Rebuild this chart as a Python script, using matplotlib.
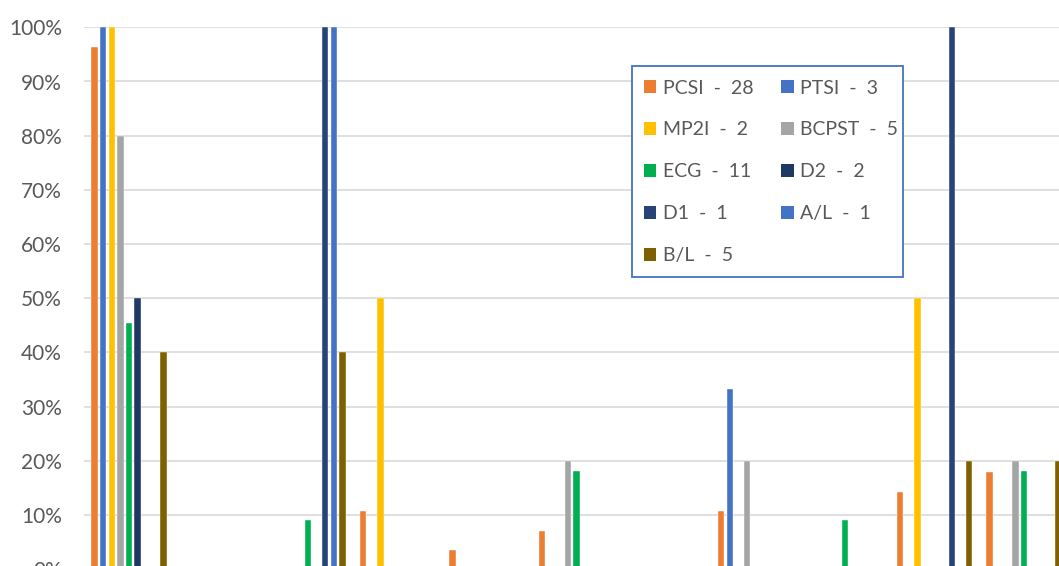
import numpy as np
import matplotlib
matplotlib.use("Agg")
import matplotlib.pyplot as plt
from matplotlib.patches import Patch, Rectangle

plt.rcParams["font.family"] = ["Lato", "DejaVu Sans"]

# series (filiere - nombre)
series = ["PCSI", "PTSI", "MP2I", "BCPST", "ECG", "D2", "D1", "A/L", "B/L"]
counts = [28, 3, 2, 5, 11, 2, 1, 1, 5]
colors = ["#ED7D31", "#4472C4", "#FFC000", "#A5A5A5", "#00B050",
          "#203864", "#264478", "#4472C4", "#7F6000"]

# valeurs par categorie (11 categories visibles)
pcsi = [0.964, 0, 0, 0.107, 0.036, 0.071, 0, 0.107, 0, 0.143, 0.179]
ptsi = [1.0, 0, 0, 0, 0, 0, 0, 0.333, 0, 0, 0]
mp2i = [1.0, 0, 0, 0.5, 0, 0, 0, 0, 0, 0.5, 0]
bcpst = [0.8, 0, 0, 0, 0, 0.2, 0, 0.2, 0, 0, 0.2]
ecg = [0.455, 0, 0.091, 0, 0, 0.182, 0, 0, 0.091, 0, 0.182]
d2 = [0.5, 0, 0, 0, 0, 0, 0, 0, 0, 0, 0]
d1 = [0, 0, 1.0, 0, 0, 0, 0, 0, 0, 1.0, 0]
al = [0, 0, 1.0, 0, 0, 0, 0, 0, 0, 0, 0]
bl = [0.4, 0, 0.4, 0, 0, 0, 0, 0, 0, 0.2, 0.2]
values = [pcsi, ptsi, mp2i, bcpst, ecg, d2, d1, al, bl]

W, H = 1059, 566
fig = plt.figure(figsize=(W / 100, H / 100), dpi=100)
# axes placed so the chart looks cropped like the reference
ax = fig.add_axes([84.3 / W, -3.3 / H, 12 * 89.5 / W, 542 / H])

x = np.arange(len(pcsi))
pitch = 0.096
width = 0.072
for k, (vals, c) in enumerate(zip(values, colors)):
    ax.bar(x + (k - 4) * pitch, vals, width, color=c,
           edgecolor="white", linewidth=0.3, zorder=3)

ax.set_xlim(-0.5, 11.5)
ax.set_ylim(0, 1)
ax.set_yticks(np.arange(0, 1.01, 0.1))
ax.set_yticklabels([f"{int(round(v * 100))}%" for v in np.arange(0, 1.01, 0.1)])
ax.set_xticks([])
ax.tick_params(axis="y", length=0, pad=16, labelsize=15, labelcolor="#595959")
ax.grid(axis="y", color="#D9D9D9", linewidth=1.2, zorder=0)
for s in ax.spines.values():
    s.set_visible(False)

# legend box drawn separately, entries in Excel row order
fig.add_artist(Rectangle((632 / W, 1 - 277 / H), 271 / W, 211 / H,
                         transform=fig.transFigure, facecolor="white",
                         edgecolor="#4472C4", linewidth=1.3, zorder=4))
order = [0, 2, 4, 6, 8, 1, 3, 5, 7]
handles = [Patch(facecolor=colors[i], edgecolor="none") for i in order]
labels = [f"{series[i]}  -  {counts[i]}" for i in order]
leg = fig.legend(handles, labels, ncol=2, loc="upper left",
                 bbox_to_anchor=(644 / W, 1 - 79.5 / H),
                 bbox_transform=fig.transFigure,
                 fontsize=14, labelcolor="#595959", frameon=False,
                 borderaxespad=0, borderpad=0, handlelength=0.62,
                 handleheight=0.62, handletextpad=0.35, labelspacing=1.28,
                 columnspacing=1.44)
leg.set_zorder(5)

fig.savefig("out.png", dpi=100)
